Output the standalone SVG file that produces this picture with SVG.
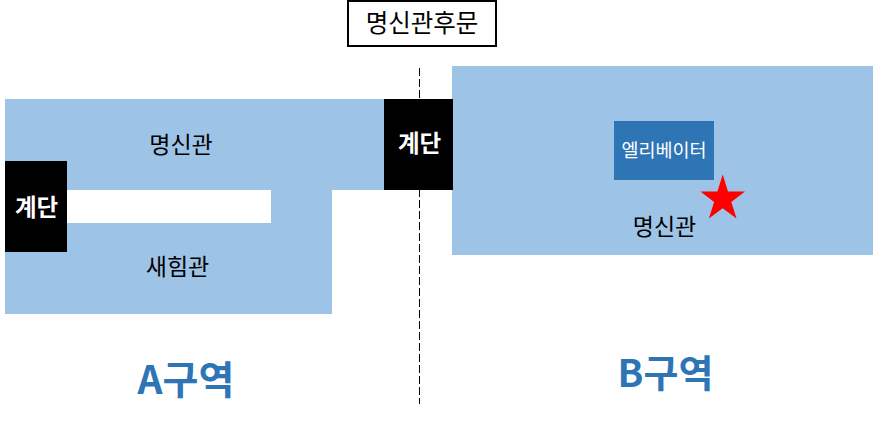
<svg xmlns="http://www.w3.org/2000/svg" width="873" height="423" viewBox="0 0 873 423">
<style>
text{font-family:"Noto Sans CJK KR","Liberation Sans",sans-serif;text-anchor:middle}
.z{fill:#9dc3e6}
.k{fill:#000}
.l{font-size:23px;fill:#000}
.s{font-size:23.500px;font-weight:700;fill:#fff}
.t{font-weight:700;fill:#2e75b6}
</style>
<rect width="873" height="423" fill="#fff"/>
<g id="connectors"><line x1="419.500" y1="68" x2="419.500" y2="404" stroke="#000" stroke-width="1" stroke-dasharray="8 3"/></g>
<g id="zone-a-myeongsin"><path class="z" d="M5 99H385V190H332V314H5Z"/><rect x="67" y="190" width="204" height="33" fill="#fff"/><text class="l" x="181" y="153">명신관</text></g>
<g id="zone-a-saeim"><text class="l" x="177.500" y="275">새힘관</text></g>
<g id="zone-b"><rect class="z" x="452" y="66" width="421" height="189"/><text class="l" x="664.500" y="235">명신관</text></g>
<g id="elevator"><rect x="614" y="121" width="100" height="59" fill="#2e75b6"/><text x="664" y="157" font-size="18.500" fill="#fff">엘리베이터</text></g>
<g id="star"><polygon fill="#f00" points="722.700,174.500 728,191.500 745,191.500 731.300,202 736.500,218.500 722.700,208.300 708.900,218.500 714.100,202 700.500,191.500 717.400,191.500"/></g>
<g id="stairs-center"><rect class="k" x="384" y="99" width="69" height="91"/><text class="s" x="419.500" y="152">계단</text></g>
<g id="stairs-left"><rect class="k" x="5" y="161" width="62" height="91"/><text class="s" x="36.500" y="215.500">계단</text></g>
<g id="rear-gate"><rect x="348" y="1" width="148" height="45" fill="#fff" stroke="#000" stroke-width="2"/><text x="422" y="32" font-size="24.500" fill="#000">명신관후문</text></g>
<text class="t" font-size="39" x="186" y="394">A구역</text>
<text class="t" font-size="38" x="665.500" y="387">B구역</text>
</svg>
